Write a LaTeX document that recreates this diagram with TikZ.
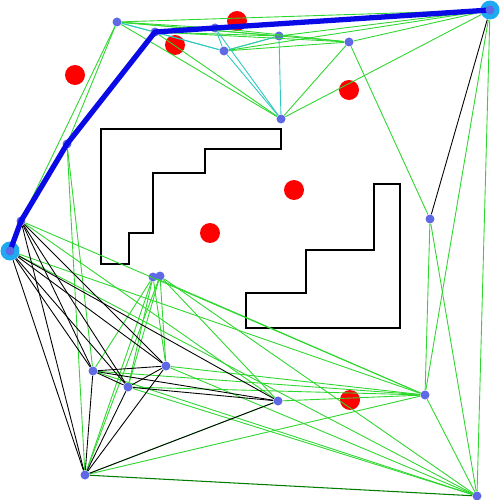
\documentclass[tikz,border=0pt]{standalone}
\usepackage{xcolor}
\usepackage{tikz}

\definecolor{edgegreen}{RGB}{45,215,45}
\definecolor{edgecyan}{RGB}{45,200,190}
\definecolor{darkedge}{RGB}{0,125,0}
\definecolor{vertexblue}{RGB}{95,105,230}
\definecolor{pathblue}{RGB}{10,10,230}
\definecolor{endblue}{RGB}{30,170,240}

\begin{document}
\begin{tikzpicture}[x=0.02cm, y=-0.02cm]
			\useasboundingbox (0, 0) rectangle (500, 500);
			
			\draw[line width=0.7pt] (101, 129) -- (281, 129) -- (281, 149) -- (205, 149) -- (205, 173) -- (153, 173) -- (153, 233) -- (129, 233) -- (129, 264) -- (101, 264) -- cycle;
			
			\draw[line width=0.7pt] (374, 184) -- (400, 184) -- (400, 328) -- (246, 328) -- (246, 293) -- (306, 293) -- (306, 250) -- (374, 250) -- cycle;
			
			\begin{scope}[
				vertex/.style={circle, fill=vertexblue, minimum size=0.18cm, inner sep=0pt},
				terminal/.style={circle, fill=endblue, minimum size=0.38cm, inner sep=0pt},
				redpt/.style={circle, fill=red, minimum size=0.4cm, inner sep=0pt}]
				\node[redpt] (C1) at (237, 21) {};
				\node[redpt] (C2) at (175, 45) {};
				\node[redpt] (C3) at (75, 75) {};
				\node[redpt] (C4) at (349, 90) {};
				\node[redpt] (C5) at (294, 190) {};
				\node[redpt] (C6) at (210, 233) {};
				\node[redpt] (C7) at (350, 400) {};
				
				\node[terminal] (V1) at (10, 251) {};
				\node[vertex] (V2) at (21, 221) {};
				\node[vertex] (V3) at (67, 144) {};
				\node[vertex] (V4) at (117, 22) {};
				\node[vertex] (V5) at (155, 32) {};
				\node[vertex] (V6) at (215, 28) {};
				\node[vertex] (V7) at (224, 51) {};
				\node[vertex] (V8) at (279, 36) {};
				\node[vertex] (V9) at (349, 42) {};
				\node[vertex] (V10) at (281, 119) {};
				\node[terminal] (V11) at (490, 10) {};
				\node[vertex] (V12) at (430, 219) {};
				\node[vertex] (V13) at (153, 277) {};
				\node[vertex] (V14) at (160, 276) {};
				\node[vertex] (V15) at (93, 371) {};
				\node[vertex] (V16) at (128, 387) {};
				\node[vertex] (V17) at (166, 366) {};
				\node[vertex] (V18) at (278, 401) {};
				\node[vertex] (V19) at (425, 395) {};
				\node[vertex] (V20) at (85, 475) {};
				\node[vertex] (V21) at (477, 496) {};
			\end{scope}
			
			% green roadmap
			\draw[edgegreen, line width=0.5pt] (V4) edge (V6) edge (V8) edge (V9) edge (V11) edge (V10) edge (V3) edge (V2);
			\draw[edgegreen, line width=0.5pt] (V5) edge (V10) edge (V8) edge (V9);
			\draw[edgegreen, line width=0.5pt] (V7) edge (V8) edge (V9) edge (V11);
			\draw[edgegreen, line width=0.5pt] (V6) edge (V9) edge (V11);
			\draw[edgegreen, line width=0.5pt] (V10) edge (V9) edge (V11);
			\draw[edgegreen, line width=0.5pt] (V11) edge (V8) edge (V9) edge (V19) edge (V21);
			\draw[edgegreen, line width=0.5pt] (V12) edge (V9) edge (V19) edge (V21);
			\draw[edgegreen, line width=0.5pt] (V19) edge (V21) edge (V18) edge (V15) edge (V16) edge (V17) edge (V20) edge (V1);
			\draw[edgegreen, line width=0.5pt] (V3) edge (V15) edge (V20);
			\draw[edgegreen, line width=0.5pt] (V13) edge (V15) edge (V16) edge (V20) edge (V17) edge (V19);
			\draw[edgegreen, line width=0.5pt] (V14) edge (V16) edge (V20) edge (V17) edge (V18) edge (V21);
			\draw[edgegreen, line width=0.5pt] (V21) edge (V15) edge (V16) edge (V17) edge (V1);
			\draw[edgegreen, line width=0.5pt] (V2) edge (V18) edge (V19);
			\draw[edgegreen, line width=0.5pt] (V20) edge (V18);
			\draw[darkedge, line width=0.6pt] (V20) edge (V21);
			
			% cyan roadmap
			\draw[edgecyan, line width=0.5pt] (V4) edge (V5) edge (V7);
			\draw[edgecyan, line width=0.5pt] (V6) edge (V7) edge (V10);
			\draw[edgecyan, line width=0.5pt] (V7) edge (V10) edge (V5);
			\draw[edgecyan, line width=0.5pt] (V8) edge (V10) edge (V7);
			
			% black roadmap
			\draw[black, line width=0.5pt] (V11) edge (V12);
			\draw[black, line width=0.5pt] (V1) edge (V15) edge (V16) edge (V17) edge (V20) edge (V18);
			\draw[black, line width=0.5pt] (V2) edge (V20) edge (V15) edge (V16) edge (V17);
			\draw[black, line width=0.5pt] (V15) edge (V17) edge (V16) edge (V18) edge (V20);
			\draw[black, line width=0.5pt] (V16) edge (V17) edge (V18) edge (V20);
			\draw[black, line width=0.5pt] (V20) edge (V17) edge (V18);
			
			% found path
			\draw[pathblue, line width=3pt, line join=round] (V1.center) -- (V2.center) -- (V3.center) -- (V5.center) -- (V6.center) -- (V11.center);
			\fill[vertexblue] (V1) circle (4.5) (V11) circle (4.5);
		\end{tikzpicture}
\end{document}
